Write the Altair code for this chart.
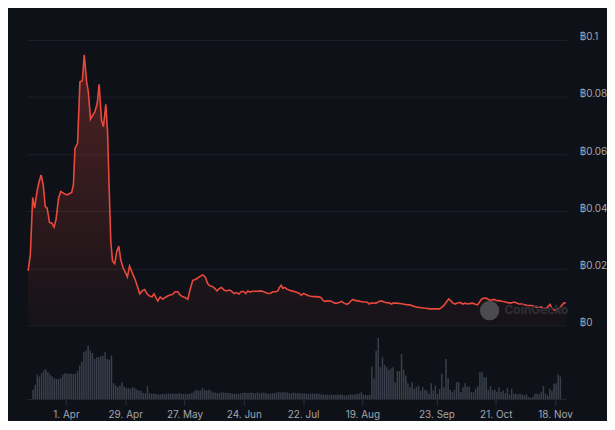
import altair as alt
import pandas as pd

# Price (BTC) readings: days since 2024-03-16 12:00 and value
price_days = [
    0.0, 1.0, 2.1, 3.0, 4.1, 5.1, 6.0, 7.0, 7.9, 8.8,
    9.9, 11.0, 12.0, 12.9, 14.1, 15.1, 17.1, 18.2, 19.4, 20.2,
    21.0, 21.7, 22.9, 24.0, 25.1, 26.0, 27.1, 27.9, 28.9, 29.9,
    30.9, 32.0, 32.9, 34.0, 34.9, 36.0, 36.8, 37.6, 38.3, 39.1,
    40.1, 41.1, 42.0, 42.9, 44.0, 45.1, 46.0, 47.0, 48.2, 49.4,
    50.6, 51.7, 52.8, 54.0, 55.1, 56.3, 57.4, 58.3, 59.4, 60.1,
    61.2, 62.4, 63.5, 64.7, 65.8, 67.0, 68.1, 69.4, 70.4, 71.7,
    72.7, 74.0, 75.0, 76.3, 77.8, 79.3, 80.9, 82.1, 83.2, 84.2,
    85.5, 86.5, 87.5, 88.5, 89.6, 90.8, 91.9, 93.1, 94.2, 95.4,
    96.5, 97.7, 98.8, 99.9, 100.8, 101.8, 102.8, 103.9, 105.1, 106.5,
    107.7, 109.0, 110.0, 111.3, 112.3, 113.4, 114.7, 115.7, 116.5, 117.3,
    118.0, 118.9, 120.0, 121.1, 122.3, 123.4, 124.7, 125.7, 126.6, 127.7,
    128.8, 130.0, 131.1, 132.3, 133.4, 134.6, 135.7, 136.6, 137.4, 138.5,
    139.5, 140.8, 142.0, 143.1, 144.1, 145.4, 146.4, 147.7, 148.7, 149.7,
    150.7, 151.8, 153.0, 154.1, 155.3, 156.4, 157.3, 158.1, 159.2, 160.4,
    161.5, 162.6, 163.8, 164.9, 166.1, 167.3, 168.4, 169.2, 170.7, 172.3,
    173.8, 175.3, 176.9, 178.4, 180.0, 181.5, 183.0, 184.6, 186.1, 187.6,
    189.2, 190.7, 191.8, 192.7, 193.8, 194.9, 195.8, 196.8, 197.9, 199.1,
    200.2, 201.4, 202.5, 203.7, 204.8, 206.0, 207.1, 208.3, 209.4, 210.3,
    211.4, 212.5, 213.7, 214.8, 216.0, 217.1, 218.3, 219.6, 220.6, 221.7,
    222.9, 224.0, 225.2, 226.5, 227.5, 228.8, 229.8, 231.1, 232.1, 233.4,
    234.5, 235.5, 236.8, 237.8, 239.1, 240.1, 241.0, 241.9, 242.9, 244.0,
    245.2, 246.3, 247.3, 248.4, 249.2,
]
price_vals = [
    0.0191, 0.0248, 0.0448, 0.0411, 0.0469, 0.0504, 0.0527, 0.0492, 0.0417, 0.0411,
    0.0361, 0.0358, 0.0344, 0.0370, 0.0446, 0.0469, 0.0460, 0.0457, 0.0463, 0.0466,
    0.0495, 0.0620, 0.0638, 0.0853, 0.0857, 0.0948, 0.0853, 0.0818, 0.0722, 0.0736,
    0.0748, 0.0777, 0.0844, 0.0719, 0.0696, 0.0774, 0.0678, 0.0469, 0.0295, 0.0225,
    0.0216, 0.0260, 0.0278, 0.0231, 0.0202, 0.0185, 0.0170, 0.0208, 0.0185, 0.0164,
    0.0138, 0.0111, 0.0121, 0.0126, 0.0111, 0.0103, 0.0100, 0.0111, 0.0095, 0.0086,
    0.0100, 0.0092, 0.0098, 0.0103, 0.0107, 0.0109, 0.0118, 0.0118, 0.0107, 0.0100,
    0.0098, 0.0092, 0.0124, 0.0158, 0.0162, 0.0170, 0.0177, 0.0170, 0.0147, 0.0139,
    0.0136, 0.0130, 0.0121, 0.0129, 0.0133, 0.0124, 0.0121, 0.0124, 0.0121, 0.0112,
    0.0115, 0.0110, 0.0119, 0.0119, 0.0112, 0.0121, 0.0117, 0.0120, 0.0120, 0.0120,
    0.0121, 0.0119, 0.0115, 0.0112, 0.0113, 0.0118, 0.0118, 0.0121, 0.0133, 0.0141,
    0.0130, 0.0133, 0.0127, 0.0123, 0.0121, 0.0119, 0.0115, 0.0112, 0.0106, 0.0112,
    0.0108, 0.0104, 0.0102, 0.0101, 0.0101, 0.0100, 0.0098, 0.0089, 0.0084, 0.0086,
    0.0086, 0.0084, 0.0078, 0.0078, 0.0080, 0.0084, 0.0078, 0.0074, 0.0078, 0.0087,
    0.0091, 0.0087, 0.0086, 0.0084, 0.0082, 0.0082, 0.0081, 0.0075, 0.0079, 0.0078,
    0.0079, 0.0084, 0.0086, 0.0082, 0.0080, 0.0079, 0.0075, 0.0078, 0.0078, 0.0077,
    0.0075, 0.0073, 0.0072, 0.0068, 0.0064, 0.0063, 0.0061, 0.0060, 0.0058, 0.0058,
    0.0058, 0.0058, 0.0064, 0.0070, 0.0081, 0.0093, 0.0087, 0.0079, 0.0075, 0.0079,
    0.0081, 0.0075, 0.0078, 0.0075, 0.0077, 0.0078, 0.0075, 0.0072, 0.0084, 0.0093,
    0.0096, 0.0095, 0.0089, 0.0089, 0.0091, 0.0087, 0.0087, 0.0085, 0.0084, 0.0081,
    0.0079, 0.0079, 0.0082, 0.0079, 0.0075, 0.0075, 0.0073, 0.0071, 0.0070, 0.0070,
    0.0067, 0.0064, 0.0064, 0.0064, 0.0061, 0.0060, 0.0066, 0.0074, 0.0060, 0.0054,
    0.0056, 0.0060, 0.0070, 0.0079, 0.0079,
]

# Daily trading volume (relative units), one bar per day from 2024-03-16
volume_vals = [
    28, 43, 74, 68, 78, 86, 89, 81, 74, 68,
    63, 61, 60, 63, 74, 78, 76, 76, 76, 76,
    76, 84, 101, 113, 141, 146, 161, 146, 139, 121,
    126, 126, 129, 131, 141, 121, 118, 131, 48, 41,
    36, 41, 51, 38, 34, 33, 31, 36, 33, 28,
    26, 24, 18, 18, 39, 18, 16, 16, 16, 14,
    14, 16, 15, 16, 16, 16, 16, 16, 16, 18,
    16, 16, 16, 15, 16, 18, 23, 28, 26, 26,
    34, 28, 26, 28, 24, 20, 20, 18, 18, 20,
    20, 18, 18, 18, 16, 16, 16, 16, 18, 18,
    20, 18, 18, 20, 18, 18, 20, 18, 18, 20,
    18, 16, 16, 18, 18, 20, 22, 20, 22, 20,
    20, 18, 18, 20, 18, 18, 18, 16, 18, 16,
    16, 16, 16, 16, 16, 16, 14, 14, 13, 13,
    13, 13, 13, 12, 13, 14, 13, 11, 11, 13,
    14, 13, 14, 16, 16, 20, 13, 13, 11, 13,
    98, 62, 146, 184, 96, 126, 103, 96, 88, 92,
    96, 51, 84, 84, 136, 88, 71, 48, 36, 51,
    31, 36, 41, 26, 36, 28, 26, 16, 48, 26,
    41, 16, 31, 76, 36, 121, 63, 28, 21, 28,
    51, 51, 21, 36, 48, 38, 38, 21, 21, 31,
    39, 81, 81, 66, 66, 28, 39, 26, 29, 21,
    36, 21, 26, 18, 33, 13, 31, 16, 16, 14,
    16, 13, 11, 14, 6, 4, 6, 16, 16, 14,
    21, 39, 16, 11, 31, 24, 46, 48, 74, 68,
]

x_tick_dates = [(2024, 4, 1), (2024, 4, 29), (2024, 5, 27), (2024, 6, 24), (2024, 7, 22),
                (2024, 8, 19), (2024, 9, 23), (2024, 10, 21), (2024, 11, 18)]
y_ticks = [0, 0.02, 0.04, 0.06, 0.08, 0.1]

t0 = pd.Timestamp("2024-03-16 12:00")
fmt = "%Y-%m-%dT%H:%M:%S"
price_df = pd.DataFrame({
    "date": [(t0 + pd.Timedelta(days=d)).strftime(fmt) for d in price_days],
    "price": price_vals,
})
vol_df = pd.DataFrame({
    "date": [(t0 + pd.Timedelta(days=i)).strftime(fmt) for i in range(len(volume_vals))],
    "volume": volume_vals,
})

x_domain = [alt.DateTime(year=2024, month=3, date=15, hours=22),
            alt.DateTime(year=2024, month=11, date=20, hours=22)]
tick_values = [alt.DateTime(year=y, month=m, date=d) for (y, m, d) in x_tick_dates]

LABEL = "#a3a7ae"
FONT = "Inter"
RED = "#e9493d"

xs = alt.Scale(domain=x_domain)

base = alt.Chart(price_df).encode(x=alt.X("date:T", scale=xs, axis=None))

area = base.mark_area(
    color=alt.Gradient(
        gradient="linear",
        stops=[alt.GradientStop(color="rgba(233,73,61,0.30)", offset=0),
               alt.GradientStop(color="rgba(233,73,61,0.03)", offset=1)],
        x1=1, x2=1, y1=0, y2=1,
    )
).encode(
    y=alt.Y("price:Q", scale=alt.Scale(domain=[0, 0.1]),
            axis=alt.Axis(orient="right", values=y_ticks, title=None,
                          labelExpr="'฿' + format(datum.value, '.2~f')",
                          grid=True, gridColor="#1d222a", gridWidth=1,
                          domain=False, ticks=False, labelPadding=13,
                          labelBaseline="alphabetic", labelAlign="left",
                          labelColor=LABEL, labelFontSize=10, labelFont=FONT))
)
line = base.mark_line(color=RED, strokeWidth=1.6).encode(y=alt.Y("price:Q"))

wm_df = pd.DataFrame({"label": ["CoinGecko"]})
wm_circle = alt.Chart(wm_df).mark_circle(size=380, color="#76797e", opacity=0.55).encode(
    x=alt.value(465), y=alt.value(272))
wm_text = alt.Chart(wm_df).mark_text(align="left", baseline="middle", fontSize=12,
                                     fontWeight="bold", font=FONT, color="#2c3038").encode(
    x=alt.value(480), y=alt.value(271), text="label:N")

price_chart = alt.layer(area, line, wm_circle, wm_text).properties(width=542, height=287)

vol_chart = alt.Chart(vol_df).mark_bar(width=1.5, color="#39404b").encode(
    x=alt.X("date:T", scale=xs,
            axis=alt.Axis(values=tick_values, format="%-d. %b", title=None,
                          labelColor=LABEL, labelFontSize=10, labelFont=FONT,
                          tickColor="#2a2f38", tickSize=6, domainColor="#232831",
                          grid=False, labelPadding=5, labelFlush=False)),
    y=alt.Y("volume:Q", scale=alt.Scale(domain=[0, 195]), axis=None),
).properties(width=542, height=65)

chart = alt.vconcat(price_chart, vol_chart, spacing=7).properties(
    background="#0e1117",
    padding={"left": 17, "top": 23, "right": 0, "bottom": 0},
).configure_view(stroke=None)

chart.save("out.html", embed_options={"renderer": "svg", "actions": False})
